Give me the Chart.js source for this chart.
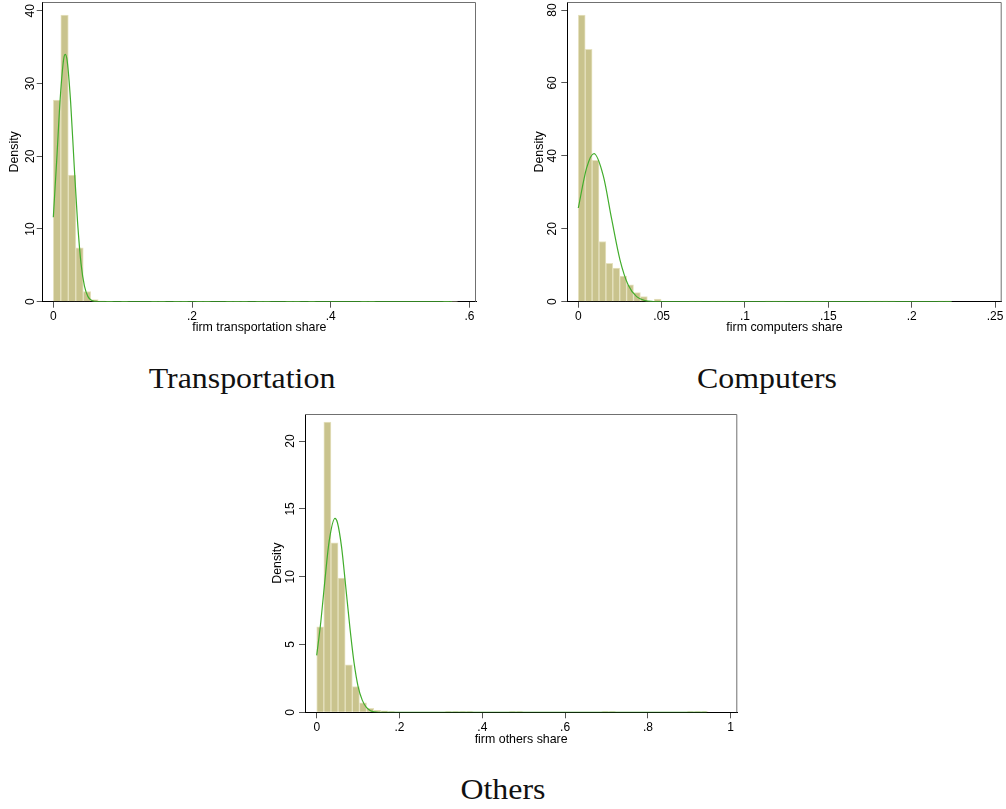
<!DOCTYPE html>
<html>
<head>
<meta charset="utf-8">
<title>Firm expenditure shares</title>
<script src="https://cdn.jsdelivr.net/npm/chart.js@4.4.1/dist/chart.umd.min.js"></script>
<style>
  body { margin: 0; background: #fff; width: 1006px; height: 809px; position: relative; overflow: hidden; }
  .panel { position: absolute; }
  .caption {
    position: absolute; font-family: 'Liberation Serif', 'Times New Roman', serif;
    font-size: 29px; line-height: 29px; color: #111; white-space: nowrap;
    transform: translateX(-50%) scaleX(1.1);
  }
</style>
</head>
<body>

<div class="panel" style="left:0;top:0"><canvas id="transChart" width="490" height="340"></canvas></div>
<div class="panel" style="left:520px;top:0"><canvas id="compChart" width="486" height="340"></canvas></div>
<div class="panel" style="left:260px;top:400px"><canvas id="othChart" width="500" height="360"></canvas></div>

<div class="caption" style="left:242px;top:364px">Transportation</div>
<div class="caption" style="left:767px;top:364px">Computers</div>
<div class="caption" style="left:503px;top:775px">Others</div>

<script>
/* ---------- data ---------- */

// Transportation share: histogram density per bin (bins start at 0)
const transBinWidth = 0.0108;
const transDensity = [
  27.7, 39.4, 17.4, 7.4, 1.4, 0.3, 0.1, 0.05, 0, 0.05,
  0, 0, 0, 0.05, 0.05, 0, 0.05, 0.05, 0, 0.05,
  0.05, 0, 0, 0.05, 0.05, 0.05, 0, 0.05, 0.05, 0,
  0, 0.05, 0.05, 0, 0.05, 0, 0, 0, 0, 0,
  0, 0.05, 0.05, 0, 0, 0, 0, 0, 0, 0,
  0, 0, 0.05, 0.05
];
// normal density overlay
const transNormalX = [0, 0.005, 0.01, 0.015, 0.0173, 0.02, 0.025, 0.03, 0.035, 0.04, 0.045, 0.05, 0.055, 0.06, 0.07, 0.575];
const transNormalY = [11.6, 19.6, 28.0, 33.4, 34.0, 33.1, 27.4, 18.9, 10.9, 5.2, 2.1, 0.7, 0.2, 0.05, 0, 0];
const transXTicks = [0, 0.2, 0.4, 0.6];
const transXLabels = ['0', '.2', '.4', '.6'];
const transYTicks = [0, 10, 20, 30, 40];
const transYLabels = ['0', '10', '20', '30', '40'];

// Computers share
const compBinWidth = 0.00414;
const compDensity = [
  78.6, 69.2, 38.8, 16.5, 10.5, 9.2, 7.0, 4.6, 2.5, 1.4,
  0, 0.7, 0, 0, 0, 0, 0.15, 0.15, 0, 0.15,
  0.15, 0.15, 0, 0, 0, 0, 0, 0.15, 0.15, 0.15,
  0, 0, 0.15, 0.15, 0.15, 0, 0, 0, 0, 0,
  0, 0, 0.15, 0.15, 0.15, 0.15, 0, 0, 0, 0,
  0, 0, 0.15, 0.15
];
const compNormalX = [0, 0.005, 0.0094, 0.015, 0.02, 0.025, 0.03, 0.035, 0.04, 0.045, 0.05, 0.224];
const compNormalY = [25.7, 36.7, 40.6, 34.5, 22.7, 11.5, 4.5, 1.4, 0.3, 0.05, 0, 0];
const compXTicks = [0, 0.05, 0.1, 0.15, 0.2, 0.25];
const compXLabels = ['0', '.05', '.1', '.15', '.2', '.25'];
const compYTicks = [0, 20, 40, 60, 80];
const compYLabels = ['0', '20', '40', '60', '80'];

// Others share
const othBinWidth = 0.0172;
const othDensity = [
  6.3, 21.4, 12.5, 9.9, 3.5, 1.9, 0.7, 0.3, 0.15, 0.1,
  0.05, 0, 0, 0, 0, 0, 0, 0, 0.05, 0.05,
  0.05, 0.05, 0, 0, 0, 0, 0, 0.05, 0.05, 0,
  0, 0, 0, 0, 0, 0, 0, 0, 0, 0,
  0.05, 0.05, 0, 0, 0, 0, 0, 0, 0, 0,
  0, 0, 0.05, 0.05, 0.05
];
const othNormalX = [0, 0.01, 0.02, 0.03, 0.0442, 0.05, 0.06, 0.07, 0.08, 0.09, 0.10, 0.11, 0.12, 0.13, 0.14, 0.15, 0.942];
const othNormalY = [4.2, 6.7, 9.8, 12.6, 14.3, 14.0, 12.2, 9.3, 6.3, 3.7, 1.9, 0.9, 0.36, 0.12, 0.03, 0, 0];
const othXTicks = [0, 0.2, 0.4, 0.6, 0.8, 1];
const othXLabels = ['0', '.2', '.4', '.6', '.8', '1'];
const othYTicks = [0, 5, 10, 15, 20];
const othYLabels = ['0', '5', '10', '15', '20'];

/* ---------- styling ---------- */

const BAR_FILL = '#c9c38d';
const BAR_EDGE = '#e6e2c0';
const NORMAL_LINE = '#42ad2c';
const AXIS_FONT = { family: "'Liberation Sans', Arial, sans-serif", size: 12 };
const TITLE_FONT = { family: "'Liberation Sans', Arial, sans-serif", size: 12.4 };

// top and right sides of the plot box
const plotFrame = {
  id: 'plotFrame',
  afterDraw(chart) {
    const { ctx, chartArea: a } = chart;
    ctx.save();
    ctx.strokeStyle = '#707070';
    ctx.lineWidth = 1;
    ctx.beginPath();
    ctx.moveTo(a.left, a.top + 0.5);
    ctx.lineTo(a.right - 0.5, a.top + 0.5);
    ctx.lineTo(a.right - 0.5, a.bottom);
    ctx.stroke();
    ctx.restore();
  }
};

function histogram(canvasId, d, box) {
  const bars = d.density.map((v, i) => ({ x: (i + 0.5) * d.binWidth, y: v }));
  const curve = d.normalX.map((x, i) => ({ x: x, y: d.normalY[i] }));

  return new Chart(document.getElementById(canvasId), {
    type: 'bar',
    data: {
      datasets: [
        {
          type: 'line',
          data: curve,
          borderColor: NORMAL_LINE,
          borderWidth: 1.2,
          pointRadius: 0,
          fill: false,
          cubicInterpolationMode: 'monotone',
          order: 0
        },
        {
          data: bars,
          backgroundColor: BAR_FILL,
          borderColor: BAR_EDGE,
          borderWidth: 1,
          borderSkipped: 'start',
          barPercentage: 1,
          categoryPercentage: 1,
          order: 1
        }
      ]
    },
    options: {
      responsive: false,
      animation: false,
      layout: { padding: { left: 0, top: box.padTop, right: box.padRight, bottom: 0 } },
      plugins: { legend: { display: false }, tooltip: { enabled: false } },
      scales: {
        x: {
          type: 'linear',
          offset: false,
          min: box.xMin,
          max: box.xMax,
          afterBuildTicks: s => { s.ticks = d.xTicks.map(v => ({ value: v })); },
          afterFit: s => { s.height = box.xHeight; s.paddingLeft = 0; s.paddingRight = 0; },
          ticks: {
            autoSkip: false, maxRotation: 0, minRotation: 0, padding: 2,
            color: '#000', font: AXIS_FONT,
            callback: (v, i) => d.xLabels[i]
          },
          grid: { offset: false, drawOnChartArea: false, drawTicks: true, tickLength: 6, tickColor: '#555' },
          border: { display: true, color: '#000', width: 1 },
          title: { display: true, text: d.xTitle, color: '#000', font: TITLE_FONT, padding: { top: 0, bottom: box.xTitlePad } }
        },
        y: {
          min: 0,
          max: box.yMax,
          afterBuildTicks: s => { s.ticks = d.yTicks.map(v => ({ value: v })); },
          afterFit: s => { s.width = box.yWidth; s.paddingTop = 0; s.paddingBottom = 0; },
          ticks: {
            autoSkip: false, minRotation: 90, maxRotation: 90, crossAlign: 'center',
            padding: box.yTickPad, color: '#000', font: AXIS_FONT,
            callback: (v, i) => d.yLabels[i]
          },
          grid: { drawOnChartArea: false, drawTicks: true, tickLength: 6, tickColor: '#555' },
          border: { display: true, color: '#000', width: 1 },
          title: { display: true, text: 'Density', color: '#000', font: TITLE_FONT, padding: { top: box.yTitlePad, bottom: 0 } }
        }
      }
    },
    plugins: [plotFrame]
  });
}

histogram('transChart', {
  binWidth: transBinWidth, density: transDensity,
  normalX: transNormalX, normalY: transNormalY,
  xTicks: transXTicks, xLabels: transXLabels, yTicks: transYTicks, yLabels: transYLabels,
  xTitle: 'firm transportation share'
}, { xMin: -0.0153, xMax: 0.6095, yMax: 41.2, padTop: 2, padRight: 14, yWidth: 42.7, xHeight: 38.3,
     yTickPad: -1, yTitlePad: 7, xTitlePad: 5 });

histogram('compChart', {
  binWidth: compBinWidth, density: compDensity,
  normalX: compNormalX, normalY: compNormalY,
  xTicks: compXTicks, xLabels: compXLabels, yTicks: compYTicks, yLabels: compYLabels,
  xTitle: 'firm computers share'
}, { xMin: -0.0066, xMax: 0.254, yMax: 82.2, padTop: 2, padRight: 4.3, yWidth: 47.3, xHeight: 38.3,
     yTickPad: 2, yTitlePad: 12.3, xTitlePad: 4.6 });

histogram('othChart', {
  binWidth: othBinWidth, density: othDensity,
  normalX: othNormalX, normalY: othNormalY,
  xTicks: othXTicks, xLabels: othXLabels, yTicks: othYTicks, yLabels: othYLabels,
  xTitle: 'firm others share'
}, { xMin: -0.0283, xMax: 1.016, yMax: 22, padTop: 14, padRight: 22.7, yWidth: 45, xHeight: 47.7,
     yTickPad: 1.3, yTitlePad: 10.6, xTitlePad: 12.6 });
</script>
</body>
</html>
